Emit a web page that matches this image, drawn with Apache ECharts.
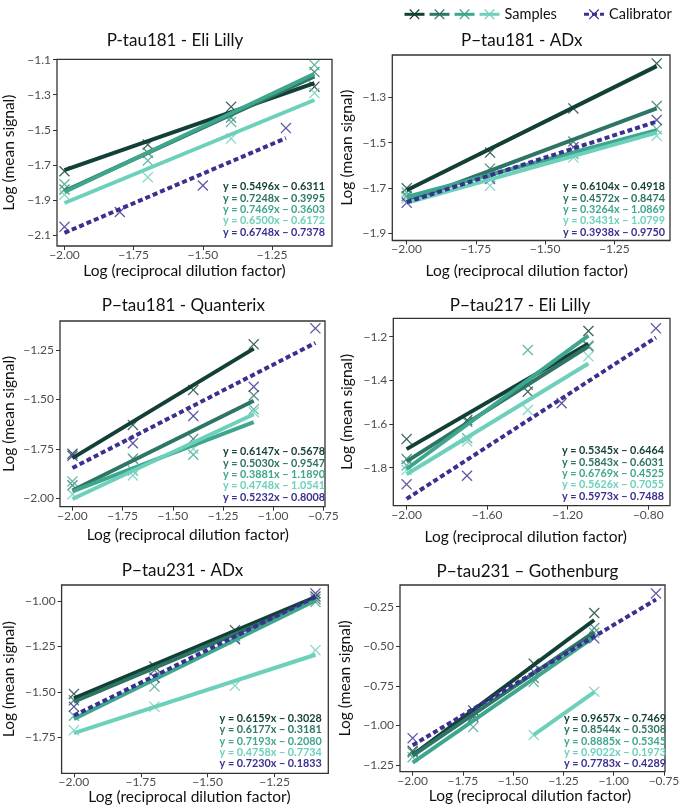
<!DOCTYPE html>
<html><head><meta charset="utf-8">
<script src="https://cdn.jsdelivr.net/npm/echarts@6/dist/echarts.min.js"></script>
<style>html,body{margin:0;padding:0;background:#fff}#c{width:685px;height:810px}</style>
</head><body><div id="c"></div>
<script>
// ---------------- data ----------------
const SAMPLE_X = [-2.000, -1.699, -1.398, -1.097];
const GROUP_NAMES = ['S1', 'S2', 'S3', 'Samples', 'Calibrator'];
const TITLES = ['P-tau181 - Eli Lilly', 'P\u2212tau181 - ADx', 'P\u2212tau181 - Quanterix',
  'P\u2212tau217 - Eli Lilly', 'P\u2212tau231 - ADx', 'P\u2212tau231 \u2013 Gothenburg'];
const X_TITLE = 'Log (reciprocal dilution factor)';
const Y_TITLE = 'Log (mean signal)';

// Panel 1: P-tau181 - Eli Lilly
const P1_SAMPLES = [[-1.736, -1.584, -1.369, -1.254], [-1.84, -1.63, -1.43, -1.17],
  [-1.81, -1.675, -1.455, -1.13], [-1.87, -1.77, -1.55, -1.29]];
const P1_CAL_X = [-2.0, -1.8, -1.5, -1.2];
const P1_CAL_Y = [-2.053, -1.968, -1.817, -1.49];
const P1_FIT_X = [[-2, -1.097], [-2, -1.097], [-2, -1.097], [-2, -1.097], [-2, -1.2]];
const P1_FIT_Y = [[-1.730, -1.234], [-1.849, -1.195], [-1.854, -1.180], [-1.917, -1.330], [-2.087, -1.547]];
const P1_EQ = ['y = 0.5496x \u2212 0.6311', 'y = 0.7248x \u2212 0.3995', 'y = 0.7469x \u2212 0.3603', 'y = 0.6500x \u2212 0.6172', 'y = 0.6748x \u2212 0.7378'];
const P1_XTICKS = [-2.0, -1.75, -1.5, -1.25];
const P1_YTICKS = [-2.1, -1.9, -1.7, -1.5, -1.3, -1.1];

// Panel 2: P-tau181 - ADx
const P2_SAMPLES = [[-1.701, -1.544, -1.349, -1.150], [-1.735, -1.615, -1.495, -1.338],
  [-1.72, -1.65, -1.55, -1.44], [-1.745, -1.69, -1.565, -1.47]];
const P2_CAL_X = [-2.0, -1.699, -1.398, -1.097];
const P2_CAL_Y = [-1.765, -1.66, -1.52, -1.40];
const P2_FIT_X = [[-2, -1.097], [-2, -1.097], [-2, -1.097], [-2, -1.097], [-2, -1.097]];
const P2_FIT_Y = [[-1.710, -1.162], [-1.762, -1.349], [-1.740, -1.445], [-1.766, -1.456], [-1.763, -1.407]];
const P2_EQ = ['y = 0.6104x \u2212 0.4918', 'y = 0.4572x \u2212 0.8474', 'y = 0.3264x \u2212 1.0869', 'y = 0.3431x \u2212 1.0799', 'y = 0.3938x \u2212 0.9750'];
const P2_XTICKS = [-2.0, -1.75, -1.5, -1.25];
const P2_YTICKS = [-1.9, -1.7, -1.5, -1.3];

// Panel 3: P-tau181 - Quanterix
const P3_SAMPLES = [[-1.775, -1.629, -1.452, -1.221], [-1.935, -1.80, -1.70, -1.48],
  [-1.915, -1.86, -1.78, -1.55], [-1.98, -1.885, -1.75, -1.565]];
const P3_CAL_X = [-2.0, -1.699, -1.398, -1.097, -0.79];
const P3_CAL_Y = [-1.785, -1.722, -1.584, -1.436, -1.140];
const P3_FIT_X = [[-2, -1.097], [-2, -1.097], [-2, -1.097], [-2, -1.097], [-2, -0.79]];
const P3_FIT_Y = [[-1.797, -1.243], [-1.961, -1.507], [-1.965, -1.615], [-2.004, -1.575], [-1.847, -1.214]];
const P3_EQ = ['y = 0.6147x \u2212 0.5678', 'y = 0.5030x \u2212 0.9547', 'y = 0.3881x \u2212 1.1890', 'y = 0.4748x \u2212 1.0541', 'y = 0.5232x \u2212 0.8008'];
const P3_XTICKS = [-2.0, -1.75, -1.5, -1.25, -1.0, -0.75];
const P3_YTICKS = [-2.0, -1.75, -1.5, -1.25];

// Panel 4: P-tau217 - Eli Lilly
const P4_SAMPLES = [[-1.669, -1.582, -1.452, -1.174], [-1.76, -1.59, -1.42, -1.245],
  [-1.79, -1.665, -1.261, -1.24], [-1.81, -1.68, -1.536, -1.29]];
const P4_CAL_X = [-2.0, -1.70, -1.23, -0.762];
const P4_CAL_Y = [-1.876, -1.837, -1.505, -1.162];
const P4_FIT_X = [[-2, -1.097], [-2, -1.097], [-2, -1.097], [-2, -1.097], [-2, -0.762]];
const P4_FIT_Y = [[-1.715, -1.233], [-1.771, -1.244], [-1.806, -1.195], [-1.830, -1.323], [-1.943, -1.204]];
const P4_EQ = ['y = 0.5345x \u2212 0.6464', 'y = 0.5843x \u2212 0.6031', 'y = 0.6769x \u2212 0.4525', 'y = 0.5626x \u2212 0.7055', 'y = 0.5973x \u2212 0.7488'];
const P4_XTICKS = [-2.0, -1.6, -1.2, -0.8];
const P4_YTICKS = [-1.8, -1.6, -1.4, -1.2];

// Panel 5: P-tau231 - ADx
const P5_SAMPLES = [[-1.51, -1.36, -1.16, -0.975], [-1.545, -1.38, -1.19, -0.99],
  [-1.63, -1.47, -1.205, -1.005], [-1.71, -1.58, -1.465, -1.27]];
const P5_CAL_X = [-2.0, -1.699, -1.398, -1.097];
const P5_CAL_Y = [-1.58, -1.42, -1.21, -0.958];
const P5_FIT_X = [[-2, -1.097], [-2, -1.097], [-2, -1.097], [-2, -1.097], [-2, -1.097]];
const P5_FIT_Y = [[-1.535, -0.978], [-1.553, -0.996], [-1.647, -0.997], [-1.725, -1.295], [-1.629, -0.977]];
const P5_EQ = ['y = 0.6159x \u2212 0.3028', 'y = 0.6177x \u2212 0.3181', 'y = 0.7193x \u2212 0.2080', 'y = 0.4758x \u2212 0.7734', 'y = 0.7230x \u2212 0.1833'];
const P5_XTICKS = [-2.0, -1.75, -1.5, -1.25];
const P5_YTICKS = [-1.75, -1.5, -1.25, -1.0];

// Panel 6: P-tau231 - Gothenburg
const P6_SAMPLES = [[-1.16, -0.905, -0.61, -0.29], [-1.17, -0.93, -0.70, -0.385],
  [-1.20, -1.01, -0.725, -0.415], [null, null, -1.06, -0.787]];
const P6_CAL_X = [-2.0, -1.699, -1.398, -1.097, -0.79];
const P6_CAL_Y = [-1.08, -0.945, -0.66, -0.45, -0.166];
const P6_FIT_X = [[-2, -1.097], [-2, -1.097], [-2, -1.097], [-1.398, -1.097], [-2, -0.79]];
const P6_FIT_Y = [[-1.187, -0.334], [-1.19, -0.41], [-1.235, -0.44], [-1.06, -0.79], [-1.125, -0.205]];
const P6_EQ = ['y = 0.9657x \u2212 0.7469', 'y = 0.8544x \u2212 0.5308', 'y = 0.8885x \u2212 0.5345', 'y = 0.9022x \u2212 0.1973', 'y = 0.7783x \u2212 0.4289'];
const P6_XTICKS = [-2.0, -1.75, -1.5, -1.25, -1.0, -0.75];
const P6_YTICKS = [-1.25, -1.0, -0.75, -0.5, -0.25];

// ---------------- style / layout ----------------
const COLORS = ['#123f36', '#2e7565', '#3fa68e', '#6dd0bb', '#39308f'];
const FONT = 'Lato';
const XSYM = 'path://M0,1L1,0L6,5L11,0L12,1L7,6L12,11L11,12L6,7L1,12L0,11L5,6Z';

const PANELS = [
  {samples: P1_SAMPLES, calX: P1_CAL_X, calY: P1_CAL_Y, fitX: P1_FIT_X, fitY: P1_FIT_Y, eq: P1_EQ, xt: P1_XTICKS, yt: P1_YTICKS, yd: 1,
   box: [56.5, 59.3, 275.5, 186.7], xr: [-2.027, -1.0335], yr: [-2.162, -1.098],
   title: [175, 41], eqPos: [325, 186.7], yGap: 40, xGap: 17, xShift: -10},
  {samples: P2_SAMPLES, calX: P2_CAL_X, calY: P2_CAL_Y, fitX: P2_FIT_X, fitY: P2_FIT_Y, eq: P2_EQ, xt: P2_XTICKS, yt: P2_YTICKS, yd: 1,
   box: [392.3, 55, 277.7, 185.5], xr: [-2.052, -1.049], yr: [-1.932, -1.113],
   title: [521.7, 40.7], eqPos: [665, 186.7], yGap: 37.6, xGap: 22, xShift: -4.5},
  {samples: P3_SAMPLES, calX: P3_CAL_X, calY: P3_CAL_Y, fitX: P3_FIT_X, fitY: P3_FIT_Y, eq: P3_EQ, xt: P3_XTICKS, yt: P3_YTICKS, yd: 2,
   box: [59.3, 321, 265.7, 185.7], xr: [-2.062, -0.742], yr: [-2.043, -1.103],
   title: [183.3, 305.7], eqPos: [325, 451.7], yGap: 43, xGap: 20, xShift: -4.7},
  {samples: P4_SAMPLES, calX: P4_CAL_X, calY: P4_CAL_Y, fitX: P4_FIT_X, fitY: P4_FIT_Y, eq: P4_EQ, xt: P4_XTICKS, yt: P4_YTICKS, yd: 1,
   box: [393.3, 318.3, 276.7, 187.4], xr: [-2.066, -0.692], yr: [-1.974, -1.116],
   title: [520, 305.7], eqPos: [664, 450.7], yGap: 38, xGap: 23, xShift: -5.9},
  {samples: P5_SAMPLES, calX: P5_CAL_X, calY: P5_CAL_Y, fitX: P5_FIT_X, fitY: P5_FIT_Y, eq: P5_EQ, xt: P5_XTICKS, yt: P5_YTICKS, yd: 2,
   box: [59.3, 585, 269, 188.3], xr: [-2.046, -1.049], yr: [-1.946, -0.912],
   title: [182.5, 571], eqPos: [321.7, 718.3], yGap: 44.6, xGap: 12, xShift: -5.5},
  {samples: P6_SAMPLES, calX: P6_CAL_X, calY: P6_CAL_Y, fitX: P6_FIT_X, fitY: P6_FIT_Y, eq: P6_EQ, xt: P6_XTICKS, yt: P6_YTICKS, yd: 2,
   box: [400, 585, 265, 186.7], xr: [-2.063, -0.745], yr: [-1.292, -0.113],
   title: [527.5, 571.7], eqPos: [666, 718.3], yGap: 47, xGap: 13.6, xShift: -2.5}
];

const fmt = d => v => (v < 0 ? '\u2212' : '') + Math.abs(v).toFixed(d);

const grids = [], xAxes = [], yAxes = [], series = [], graphics = [];
PANELS.forEach((p, i) => {
  grids.push({left: p.box[0], top: p.box[1], width: p.box[2], height: p.box[3], show: true,
    borderColor: '#333', borderWidth: 1.3, backgroundColor: 'transparent', containLabel: false});
  xAxes.push({gridIndex: i, type: 'value', min: p.xr[0], max: p.xr[1],
    axisLine: {show: false}, splitLine: {show: false},
    axisTick: {show: true, length: 4, lineStyle: {color: '#333', width: 1}, customValues: p.xt},
    axisLabel: {customValues: p.xt, formatter: fmt(2), fontSize: 12, color: '#4d4d4d', margin: 3, fontFamily: FONT},
    name: X_TITLE, nameLocation: 'middle', nameGap: p.xGap,
    nameTextStyle: {fontSize: 15.5, color: '#111', fontFamily: FONT,
      padding: p.xShift < 0 ? [0, -2 * p.xShift, 0, 0] : [0, 0, 0, 2 * p.xShift]}});
  yAxes.push({gridIndex: i, type: 'value', min: p.yr[0], max: p.yr[1],
    axisLine: {show: false}, splitLine: {show: false},
    axisTick: {show: true, length: 4, lineStyle: {color: '#333', width: 1}, customValues: p.yt},
    axisLabel: {customValues: p.yt, formatter: fmt(p.yd), fontSize: 12, color: '#4d4d4d', margin: 6, fontFamily: FONT},
    name: Y_TITLE, nameLocation: 'middle', nameGap: p.yGap, nameRotate: 90,
    nameTextStyle: {fontSize: 15.5, color: '#111', fontFamily: FONT}});

  // points
  p.samples.forEach((ys, k) => {
    const pts = [];
    ys.forEach((y, j) => { if (y !== null) pts.push([SAMPLE_X[j], y]); });
    series.push({type: 'scatter', name: 'pts-' + GROUP_NAMES[k], xAxisIndex: i, yAxisIndex: i,
      data: pts, symbol: XSYM, symbolSize: 11, itemStyle: {color: COLORS[k]}, silent: true, z: 2});
  });
  series.push({type: 'scatter', name: 'pts-cal', xAxisIndex: i, yAxisIndex: i,
    data: p.calX.map((x, j) => [x, p.calY[j]]), symbol: XSYM, symbolSize: 11,
    itemStyle: {color: COLORS[4]}, silent: true, z: 2});

  // fitted lines
  p.fitX.forEach((xs, k) => {
    series.push({type: 'line', name: GROUP_NAMES[k], xAxisIndex: i, yAxisIndex: i,
      data: [[xs[0], p.fitY[k][0]], [xs[1], p.fitY[k][1]]],
      symbol: XSYM, showSymbol: false, symbolSize: 10,
      itemStyle: {color: COLORS[k], borderWidth: 0},
      lineStyle: {color: COLORS[k], width: 4, type: k === 4 ? [5, 3] : 'solid', cap: 'butt'},
      silent: true, z: 3 + k});
  });

  // title
  graphics.push({type: 'text', x: p.title[0], y: p.title[1], silent: true,
    style: {text: TITLES[i], fill: '#111', font: '17px ' + FONT, align: 'center', verticalAlign: 'middle'}});
  // equations
  p.eq.forEach((t, k) => {
    graphics.push({type: 'text', x: p.eqPos[0], y: p.eqPos[1] + k * 11.4, silent: true, z: 20,
      style: {text: t, fill: COLORS[k], font: 'bold 10.8px ' + FONT, align: 'right', verticalAlign: 'middle'}});
  });
});

const legendBase = {top: 1.8, itemWidth: 20, itemHeight: 13, selectedMode: false,
  textStyle: {fontSize: 14.5, color: '#111', fontFamily: FONT},
  lineStyle: {width: 3}, itemStyle: {borderWidth: 0}};

const chart = echarts.init(document.getElementById('c'), null, {renderer: 'canvas'});
chart.setOption({
  animation: false,
  backgroundColor: '#fff',
  textStyle: {fontFamily: FONT},
  legend: [
    Object.assign({}, legendBase, {left: 398, itemGap: 2, data: ['S1', 'S2', 'S3', 'Samples'],
      formatter: n => (n === 'Samples' ? 'Samples' : '')}),
    Object.assign({}, legendBase, {left: 577.5, itemGap: 2, data: ['Calibrator']})
  ],
  grid: grids, xAxis: xAxes, yAxis: yAxes, series: series, graphic: graphics
});
</script></body></html>
